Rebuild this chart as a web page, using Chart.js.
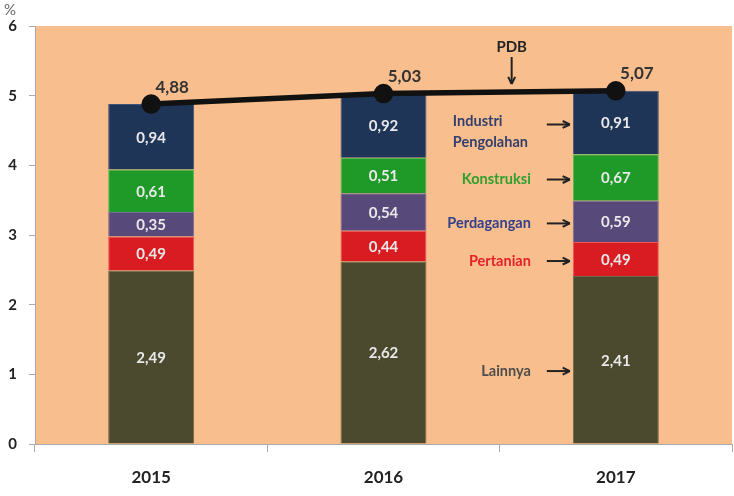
<!DOCTYPE html>
<html>
<head>
<meta charset="utf-8">
<script src="https://cdn.jsdelivr.net/npm/chart.js@4"></script>
<style>
  html, body { margin: 0; padding: 0; background: #fff; }
  #wrap { position: relative; width: 734px; height: 496px; }
</style>
</head>
<body>
<div id="wrap"><canvas id="chart" width="734" height="496"></canvas></div>
<script>
const years = ["2015", "2016", "2017"];
const lainnya = [2.49, 2.62, 2.41];
const pertanian = [0.49, 0.44, 0.49];
const perdagangan = [0.35, 0.54, 0.59];
const konstruksi = [0.61, 0.51, 0.67];
const industri = [0.94, 0.92, 0.91];
const pdb = [4.88, 5.03, 5.07];
const yTicks = [0, 1, 2, 3, 4, 5, 6];

const FONT = "Lato, 'Open Sans', sans-serif";
const fmt = v => v.toFixed(2).replace(".", ",");

// side labels pointing at the 2017 bar, bottom to top like the stack
const sideLabels = [
  { lines: ["Lainnya"], color: "#4d4d4d", dy: 9 },
  { lines: ["Pertanian"], color: "#e3222a" },
  { lines: ["Perdagangan"], color: "#33408a" },
  { lines: ["Konstruksi"], color: "#2f9f2f" },
  { lines: ["Industri", "Pengolahan"], color: "#33406e", left: true }
];

// peach plot area
const plotBg = {
  id: "plotBg",
  beforeDraw(chart) {
    const { ctx, chartArea: a } = chart;
    ctx.save();
    ctx.fillStyle = "#f9be8d";
    ctx.fillRect(a.left, a.top, a.right - a.left, a.bottom - a.top);
    ctx.restore();
  }
};

function arrow(ctx, x1, y1, x2, y2) {
  const ang = Math.atan2(y2 - y1, x2 - x1);
  ctx.beginPath();
  ctx.moveTo(x1, y1);
  ctx.lineTo(x2, y2);
  ctx.stroke();
  ctx.beginPath();
  ctx.moveTo(x2, y2);
  ctx.lineTo(x2 - 8 * Math.cos(ang - 0.45), y2 - 8 * Math.sin(ang - 0.45));
  ctx.moveTo(x2, y2);
  ctx.lineTo(x2 - 8 * Math.cos(ang + 0.45), y2 - 8 * Math.sin(ang + 0.45));
  ctx.stroke();
}

const labels = {
  id: "labels",
  afterDatasetsDraw(chart) {
    const { ctx, scales: { x, y } } = chart;
    ctx.save();
    ctx.textAlign = "center";
    ctx.textBaseline = "middle";

    // values inside the segments
    for (let d = 0; d < 5; d++) {
      const meta = chart.getDatasetMeta(d);
      meta.data.forEach((bar, i) => {
        const v = chart.data.datasets[d].data[i];
        ctx.font = "bold 15px " + FONT;
        ctx.fillStyle = "#e9e9e9";
        ctx.fillText(fmt(v), bar.x, (bar.y + bar.base) / 2 + 1);
      });
    }

    // PDB values above the points
    const lm = chart.getDatasetMeta(5);
    ctx.font = "bold 17px " + FONT;
    ctx.fillStyle = "#333";
    lm.data.forEach((pt, i) => {
      ctx.fillText(fmt(pdb[i]), pt.x + 21, pt.y - 17);
    });

    // side annotations next to 2017
    const bar17 = chart.getDatasetMeta(0).data[2];
    const barLeft = bar17.x - bar17.width / 2;
    let base = 0;
    const stacks = [lainnya, pertanian, perdagangan, konstruksi, industri];
    ctx.strokeStyle = "#222";
    ctx.lineWidth = 2;
    sideLabels.forEach((s, k) => {
      const v = stacks[k][2];
      const yc = y.getPixelForValue(base + v / 2) + 2 + (s.dy || 0);
      base += v;
      arrow(ctx, barLeft - 26, yc, barLeft - 3, yc);
      ctx.font = "bold 14.5px " + FONT;
      ctx.fillStyle = s.color;
      if (s.left) {
        ctx.textAlign = "left";
        ctx.fillText(s.lines[0], barLeft - 120, yc - 3);
        ctx.fillText(s.lines[1], barLeft - 120, yc + 18);
      } else {
        ctx.textAlign = "right";
        ctx.fillText(s.lines[0], barLeft - 42, yc);
      }
    });

    // PDB arrow pointing at the line
    const p1 = lm.data[1], p2 = lm.data[2];
    const px = (p1.x + p2.x) / 2 + 12;
    const py = p1.y + (p2.y - p1.y) * ((px - p1.x) / (p2.x - p1.x));
    ctx.textAlign = "center";
    ctx.font = "bold 15px " + FONT;
    ctx.fillStyle = "#222";
    ctx.fillText("PDB", px, py - 45);
    arrow(ctx, px, py - 35, px, py - 8);

    // percent sign
    ctx.textAlign = "left";
    ctx.font = "15px " + FONT;
    ctx.fillStyle = "#666";
    ctx.fillText("%", 4, 10);
    ctx.restore();
  }
};

function barSet(label, data, color, border) {
  return {
    type: "bar", label, data, stack: "sektor", order: 1,
    backgroundColor: color, borderColor: border, borderWidth: 1,
    barPercentage: 0.74, categoryPercentage: 0.5
  };
}

new Chart(document.getElementById("chart"), {
  data: {
    labels: years,
    datasets: [
      barSet("Lainnya", lainnya, "#4b4a2e", "#6b6a4c"),
      barSet("Pertanian", pertanian, "#d91c22", "#f0555a"),
      barSet("Perdagangan", perdagangan, "#574a7a", "#786c9a"),
      barSet("Konstruksi", konstruksi, "#1f9a28", "#4cc255"),
      barSet("Industri Pengolahan", industri, "#1f3558", "#3c557d"),
      {
        type: "line", label: "PDB", data: pdb, stack: "pdb", order: 0,
        borderColor: "#111", borderWidth: 5.5, pointRadius: 7,
        pointBackgroundColor: "#111", pointBorderColor: "#111", tension: 0
      }
    ]
  },
  options: {
    responsive: false,
    animation: false,
    layout: { autoPadding: false, padding: { top: 26, right: 2, left: 0, bottom: 0 } },
    plugins: { legend: { display: false }, tooltip: { enabled: false } },
    scales: {
      x: {
        stacked: true,
        offset: true,
        grid: { offset: true, drawOnChartArea: false, tickLength: 8, color: "#aaa" },
        border: { color: "#aaa" },
        ticks: { font: { family: FONT, size: 17, weight: "bold" }, color: "#222", padding: 15 },
        afterFit(s) { s.height = 52; s.paddingLeft = 0; s.paddingRight = 0; }
      },
      y: {
        stacked: true,
        min: 0, max: 6,
        afterBuildTicks(s) { s.ticks = yTicks.map(v => ({ value: v })); },
        grid: { drawOnChartArea: false, tickLength: 6, color: "#aaa" },
        border: { color: "#aaa" },
        ticks: { font: { family: FONT, size: 15, weight: "bold" }, color: "#222", padding: 12 },
        afterFit(s) { s.width = 35; }
      }
    }
  },
  plugins: [plotBg, labels]
});
</script>
</body>
</html>
